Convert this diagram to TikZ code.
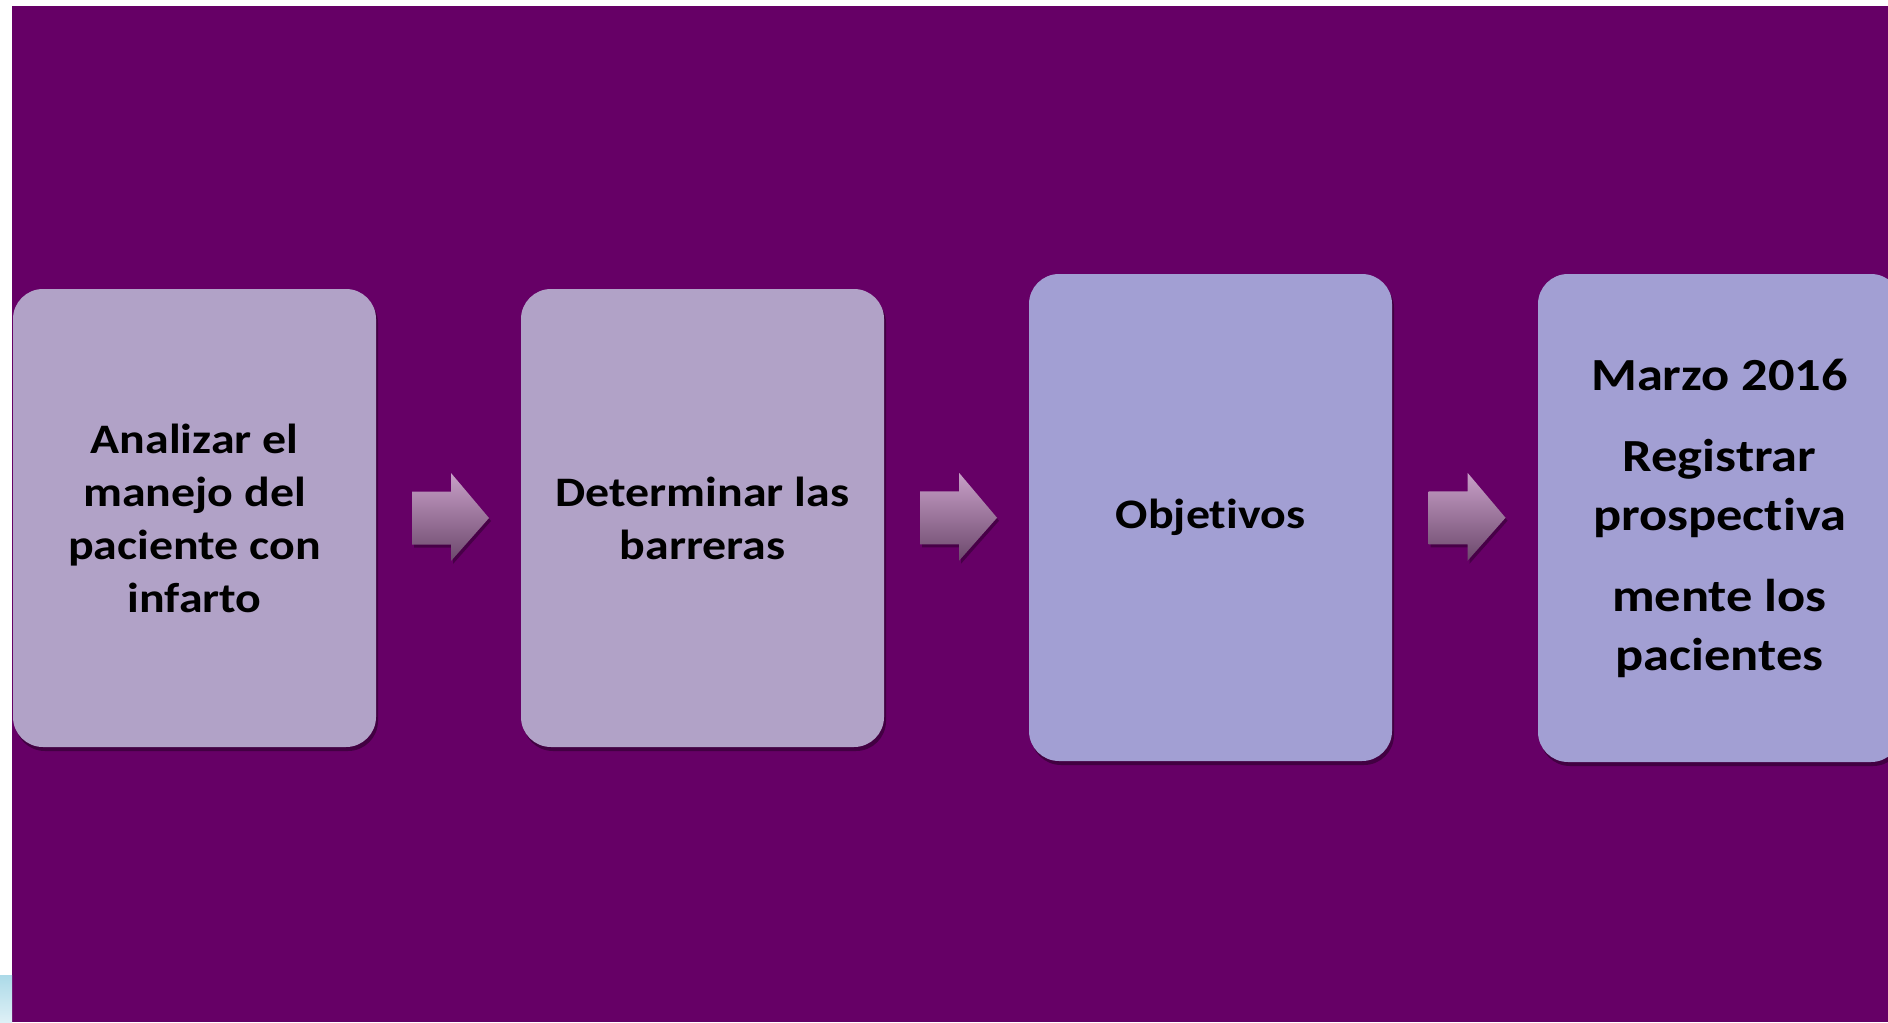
\documentclass[tikz,border=0pt]{standalone}
\usepackage{fontspec}
\setmainfont{Carlito}[FakeStretch=1.14, Ligatures=NoCommon]
\usetikzlibrary{calc,shadows}
\definecolor{bgpurple}{RGB}{102,0,102}
\definecolor{boxA}{RGB}{177,162,199}
\definecolor{boxB}{RGB}{162,159,211}
\definecolor{arrtop}{RGB}{200,160,200}
\definecolor{arrbot}{RGB}{108,72,108}
\definecolor{patchA}{RGB}{172,218,232}
\definecolor{patchB}{RGB}{222,240,246}
\tikzset{
  stagebox/.style={rounded corners=15pt, minimum width=181.5pt, align=center,
    font=\bfseries\fontsize{21}{26.5}\selectfont, text=black, inner sep=0pt,
    drop shadow={shadow xshift=1pt, shadow yshift=-2pt, opacity=0.35, fill=black}},
  stageA/.style={stagebox, fill=boxA, minimum height=229pt},
  stageB/.style={stagebox, fill=boxB, minimum height=243.5pt},
  blockarrow/.style={top color=arrtop, bottom color=arrbot, draw=none}
}
\begin{document}
\begin{tikzpicture}[x=0.5pt,y=-0.5pt]
\useasboundingbox (0,0) rectangle (1888,1022);
\clip (0,0) rectangle (1888,1022);
\fill[white] (0,0) rectangle (1888,1022);
\fill[bgpurple] (12,6) rectangle (1888,1022);
\shade[top color=patchA, bottom color=patchB] (0,975) rectangle (12,1022);

\node[stageA] (b1) at (194.5,518) {Analizar el\\manejo del\\paciente con\\infarto};
\node[stageA] (b2) at (702.5,518) {Determinar las\\barreras};
\node[stageB] (b3) at (1210.5,517.5) {Objetivos};
\node[stageB, minimum height=244pt, font=\bfseries\fontsize{23}{29.5}\selectfont] (b4) at (1719.5,518)
  {Marzo 2016\\[11pt]Registrar\\prospectiva\\[11pt]mente los\\pacientes};

\foreach \a/\b/\n in {b1/b2/m1,b2/b3/m2,b3/b4/m3}{
  \coordinate (\n) at ($(\a.east)!0.5!(\b.west)+(2,0)$);
  \shade[blockarrow, drop shadow={shadow xshift=1pt, shadow yshift=-1.5pt, opacity=0.3, fill=black}]
    ($(\n)+(-38.5,-26.5)$) -- ($(\n)+(0.5,-26.5)$) -- ($(\n)+(0.5,-45)$)
    -- ($(\n)+(38.5,0)$) -- ($(\n)+(0.5,43)$) -- ($(\n)+(0.5,26.5)$)
    -- ($(\n)+(-38.5,26.5)$) -- cycle;
}
\end{tikzpicture}
\end{document}
